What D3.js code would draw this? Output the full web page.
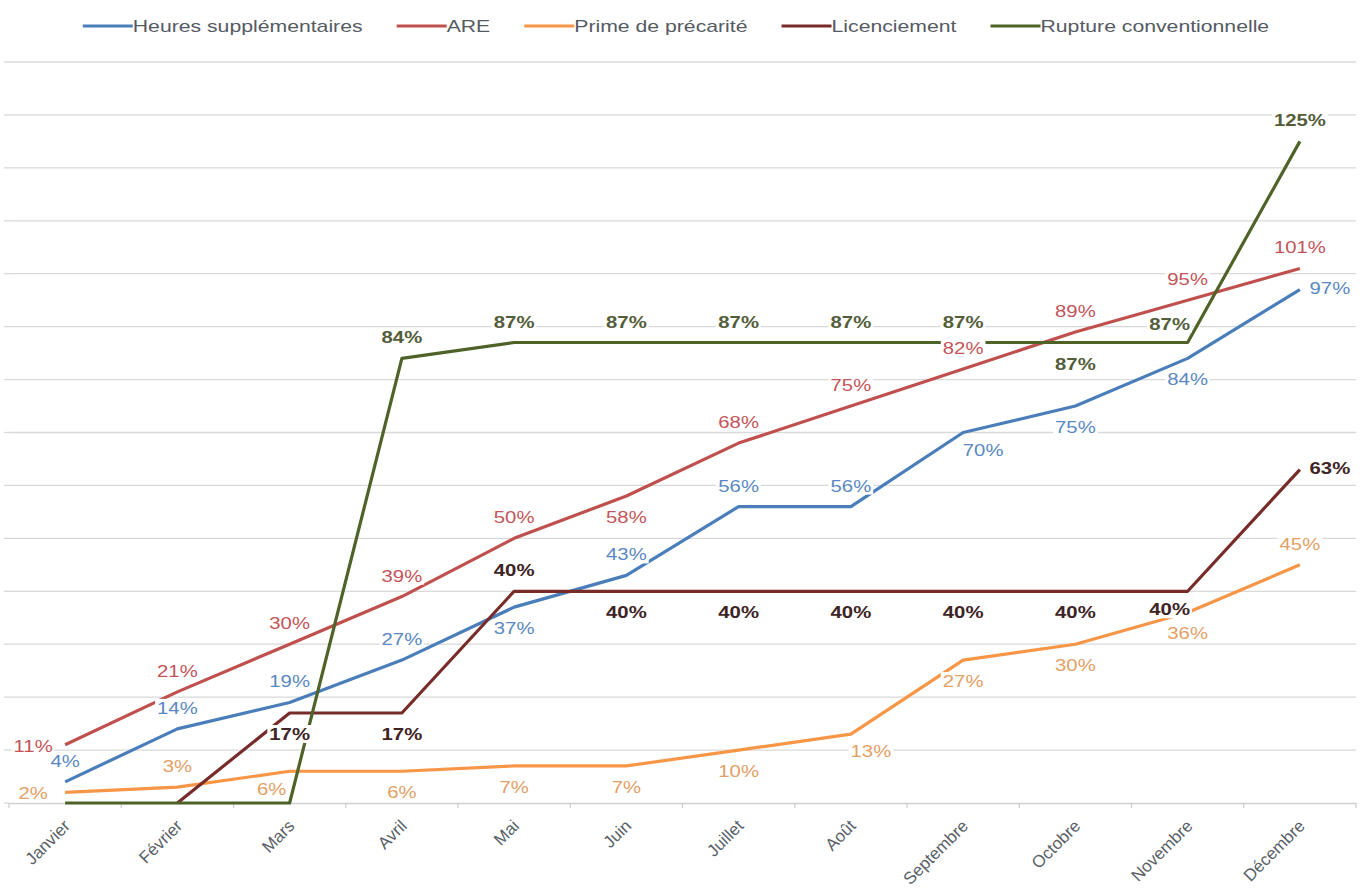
<!DOCTYPE html>
<html>
<head>
<meta charset="utf-8">
<script src="https://cdn.jsdelivr.net/npm/d3@7"></script>
<style>
  html, body { margin: 0; padding: 0; background: #ffffff; }
  svg { display: block; }
  text { font-family: "Liberation Sans", Arial, sans-serif; }
</style>
</head>
<body>
<svg id="chart" width="1370" height="895"></svg>
<script>
// ---------- DATA ----------
const months = ["Janvier","Février","Mars","Avril","Mai","Juin","Juillet","Août","Septembre","Octobre","Novembre","Décembre"];
const heuresSupplementaires = [4,14,19,27,37,43,56,56,70,75,84,97];
const are                   = [11,21,30,39,50,58,68,75,82,89,95,101];
const primePrecarite        = [2,3,6,6,7,7,10,13,27,30,36,45];
const licenciement          = [null,0,17,17,40,40,40,40,40,40,40,63];
const ruptureConventionnelle= [0,0,0,84,87,87,87,87,87,87,87,125];
const yTicks = [0,10,20,30,40,50,60,70,80,90,100,110,120,130,140];

// label placement codes (where each value label sits relative to its point)
const placeHeures   = ["above","above","above","above","below","above","above","above","belowRight","below","below","right"];
const placeAre      = ["left","above","above","above","above","below","above","above","above","above","above","above"];
const placePrime    = ["left","above","belowLeft","below","below","below","below","belowRight","below","below","below","above"];
const placeLicenc   = ["below","below","below","below","above","below","below","below","below","below","belowLeft","right"];
const placeRupture  = ["above","above","above","above","above","above","above","above","above","below","aboveLeft","above"];

const series = [
  {name:"Heures supplémentaires", values:heuresSupplementaires, place:placeHeures,  color:"#4a7ebb", label:"#5a88c2", weight:"normal"},
  {name:"ARE",                    values:are,                   place:placeAre,     color:"#c0504d", label:"#c4545a", weight:"normal"},
  {name:"Prime de précarité",     values:primePrecarite,        place:placePrime,   color:"#f79646", label:"#e3a066", weight:"normal"},
  {name:"Licenciement",           values:licenciement,          place:placeLicenc,  color:"#772c2a", label:"#3e2424", weight:"bold"},
  {name:"Rupture conventionnelle",values:ruptureConventionnelle,place:placeRupture, color:"#4f6228", label:"#545d3a", weight:"bold"}
];

const offsets = {
  above:[0,-21], below:[0,21], left:[-32,1], right:[30,-2],
  belowLeft:[-18,18], belowRight:[20,17], aboveLeft:[-18,-19]
};

// ---------- LAYOUT ----------
const svg = d3.select("#chart");
const sx = 1.27;   // horizontal stretch of value-label text
const lsx = 1.31;  // horizontal stretch of legend text

const x = d3.scaleBand().domain(months).range([9, 1356]).padding(0);
const y = d3.scaleLinear().domain([0, 140]).range([803, 62]);
const cx = m => x(m) + x.bandwidth() / 2;

// gridlines
svg.append("g").selectAll("line").data(yTicks.filter(d => d > 0)).join("line")
  .attr("x1", 9).attr("x2", 1356)
  .attr("y1", d => y(d)).attr("y2", d => y(d))
  .attr("stroke", "#d9d9d9").attr("stroke-width", 1.3);

// small y tick marks at left
svg.append("g").selectAll("line").data(yTicks).join("line")
  .attr("x1", 4).attr("x2", 9)
  .attr("y1", d => y(d)).attr("y2", d => y(d))
  .attr("stroke", "#d9d9d9").attr("stroke-width", 1.3);

// x axis
const xAxis = svg.append("g").attr("transform", "translate(0,803)")
  .call(d3.axisBottom(x).tickSize(0).tickPadding(0));
xAxis.select(".domain").attr("stroke", "#cfcfcf").attr("stroke-width", 1.5);
xAxis.selectAll(".tick text")
  .attr("font-size", 17)
  .attr("fill", "#5a5f68")
  .attr("text-anchor", "end")
  .attr("dy", 0)
  .attr("transform", "translate(6,24) rotate(-45)");
// boundary ticks
svg.append("g").selectAll("line").data(months.concat(["_end"])).join("line")
  .attr("x1", d => d === "_end" ? 1356 : x(d)).attr("x2", d => d === "_end" ? 1356 : x(d))
  .attr("y1", 803).attr("y2", 808)
  .attr("stroke", "#cfcfcf").attr("stroke-width", 1.3);

// lines
const line = d3.line()
  .defined(d => d.v !== null)
  .x(d => cx(d.m)).y(d => y(d.v));

series.forEach(s => {
  const pts = months.map((m, i) => ({m, v: s.values[i]}));
  svg.append("path").datum(pts)
    .attr("fill", "none")
    .attr("stroke", s.color)
    .attr("stroke-width", 3.2)
    .attr("stroke-linejoin", "round")
    .attr("d", line);
});

// value labels
const labelLayer = svg.append("g");
series.forEach(s => {
  months.forEach((m, i) => {
    const v = s.values[i];
    if (v === null || v === 0) return;
    const off = offsets[s.place[i]];
    const px = cx(m) + off[0], py = y(v) + off[1];
    const g = labelLayer.append("g").attr("transform", `translate(${px},${py})`);
    const rect = g.append("rect").attr("fill", "#ffffff");
    const t = g.append("text")
      .attr("transform", `scale(${sx},1)`)
      .attr("text-anchor", "middle")
      .attr("y", 6)
      .attr("font-size", 16)
      .attr("font-weight", s.weight)
      .attr("fill", s.label)
      .text(v + "%");
    const w = t.node().getComputedTextLength() * sx;
    rect.attr("x", -w / 2 - 2).attr("y", -9).attr("width", w + 4).attr("height", 18);
  });
});

// legend
const legend = svg.append("g").attr("transform", "translate(0,26)");
const lineW = 50, gap = 34;
let widths = [];
const tmp = legend.append("text").attr("font-size", 16.2);
series.forEach(s => { tmp.text(s.name); widths.push(tmp.node().getComputedTextLength() * lsx); });
tmp.remove();
const total = d3.sum(widths) + series.length * lineW + (series.length - 1) * gap;
let lx = 676 - total / 2;
series.forEach((s, i) => {
  legend.append("line")
    .attr("x1", lx).attr("x2", lx + lineW).attr("y1", 0).attr("y2", 0)
    .attr("stroke", s.color).attr("stroke-width", 3.2);
  legend.append("text")
    .attr("transform", `translate(${lx + lineW},6) scale(${lsx},1)`)
    .attr("font-size", 16.2)
    .attr("fill", "#555a63")
    .text(s.name);
  lx += lineW + widths[i] + gap;
});
</script>
</body>
</html>
